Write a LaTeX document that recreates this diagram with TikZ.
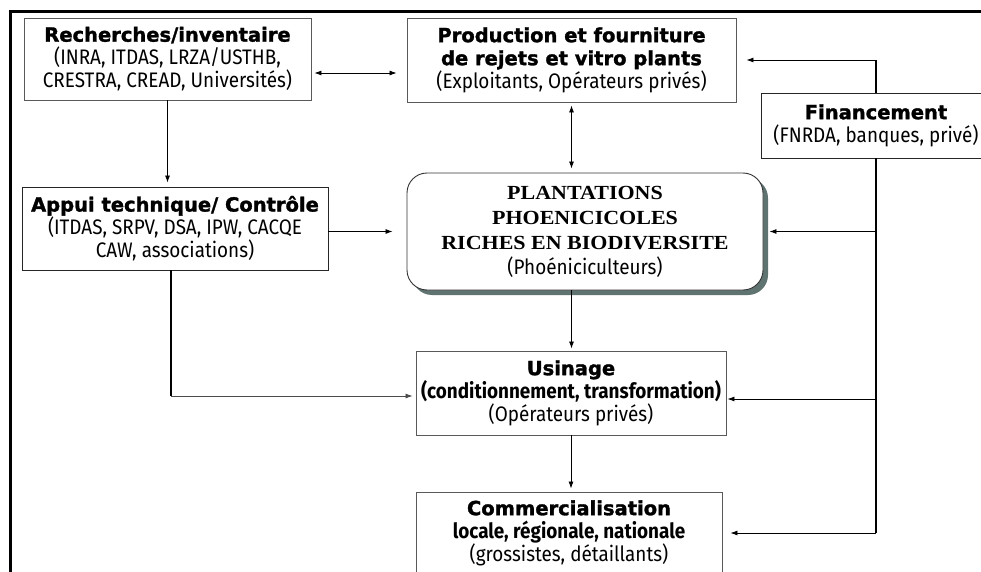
\documentclass[tikz,border=0pt]{standalone}
\usepackage{fontspec}
\setmainfont{Fira Sans}[FakeStretch=0.9]
\newfontfamily\headfont{DejaVu Sans}[BoldFeatures={FakeBold=1.5}]
\newfontfamily\plantfont{Liberation Serif}[FakeStretch=1.1]
\usetikzlibrary{arrows.meta, positioning, shadows}
\definecolor{shadowgray}{RGB}{95,115,112}
\newcommand{\head}[1]{{\headfont\bfseries\fontsize{19.5}{23}\selectfont #1}} % bold title line
\newcommand{\caps}[1]{{\plantfont\bfseries\fontsize{20}{25}\selectfont #1}} % capital title line

\tikzset{
  box/.style={draw=black!65, line width=0.9pt, fill=white, align=center, inner sep=0pt,
    font=\fontsize{21}{23}\selectfont},
  link/.style={-{Latex[length=7pt,width=5pt]}, line width=0.8pt},
  link2/.style={{Latex[length=7pt,width=5pt]}-{Latex[length=7pt,width=5pt]}, line width=0.8pt},
  trunk/.style={line width=2pt},
}

\begin{document}
\begin{tikzpicture}[x=1pt, y=-1pt]

\clip (0,0) rectangle (981,572);

% Outer frame (top and left edges)
\draw[line width=3pt] (10,590) -- (10,12) -- (995,12);

% Boxes
\node[box, minimum width=287pt, minimum height=82pt] (rech) at (167.5,59)
  {\head{Recherches/inventaire}\\(INRA, ITDAS, LRZA/USTHB,\\CRESTRA, CREAD, Universités)};
\node[box, minimum width=329pt, minimum height=84pt] (prod) at (571.5,60)
  {\head{Production et fourniture}\\\head{de rejets et vitro plants}\\(Exploitants, Opérateurs privés)};
\node[box, draw=black!85, minimum width=230pt, minimum height=65pt] (fin) at (876,125.5)
  {\head{Financement}\\(FNRDA, banques, privé)};
\node[box, draw=black!85, minimum width=306pt, minimum height=83pt] (appui) at (175,228.5)
  {\head{Appui technique/ Contrôle}\\(ITDAS, SRPV, DSA, IPW, CACQE\\CAW, associations)};
\node[box, draw=black!80, rounded corners=20pt, minimum width=356pt, minimum height=117pt,
  font=\fontsize{21}{25}\selectfont,
  drop shadow={shadow xshift=5pt, shadow yshift=-5pt, fill=shadowgray, opacity=1}] (plant) at (585,231.5)
  {\caps{PLANTATIONS}\\\caps{PHOENICICOLES}\\\caps{RICHES EN BIODIVERSITE}\\(Phoéniciculteurs)};
\node[box, minimum width=310pt, minimum height=84pt] (usin) at (571,393)
  {\head{Usinage}\\\textbf{(conditionnement, transformation)}\\(Opérateurs privés)};
\node[box, minimum width=306pt, minimum height=82pt] (comm) at (569,533)
  {\head{Commercialisation}\\\textbf{locale, régionale, nationale}\\(grossistes, détaillants)};

% Recherches <-> Production
\draw[link2] ([shift={(3,14)}]rech.east) -- ([shift={(-10,13)}]prod.west);

% Financement trunk and its branches
\coordinate (ftop) at (fin.north |- prod.east);
\coordinate (fbot) at (fin.south |- comm.east);
\coordinate (uin) at ([shift={(1,6)}]usin.east);
\draw[trunk] (fin.north) -- (ftop);
\draw[trunk] (fin.south) -- (fbot);
\draw[link] (ftop) -- ([xshift=10pt]prod.east);
\draw[link] (fin.south |- plant.east) -- ([xshift=6pt]plant.east);
\draw[link] (fin.south |- uin) -- (uin);
\draw[link] (fbot) -- ([xshift=8pt]comm.east);

% Production <-> Plantations
\draw[link2] ([yshift=-3pt]prod.south) -- ([yshift=4pt]prod.south |- plant.north);

% Main chain downwards
\draw[link, shorten >=2pt] (prod.south |- plant.south) -- (prod.south |- usin.north);
\draw[link, shorten >=3pt] (usin.south) -- (usin.south |- comm.north);
\draw[link, shorten >=4pt] (rech.south) -- (rech.south |- appui.north);

% Appui technique -> Plantations and Usinage
\draw[link] (appui.east |- plant.west) -- ([xshift=-14pt]plant.west);
\coordinate (acorner) at ([shift={(-4,3)}]appui.south |- usin.west);
\draw[trunk] ([xshift=-4pt]appui.south) -- (acorner);
\draw[link, black!70] (acorner) -- ([xshift=-3pt]usin.west |- acorner);

\end{tikzpicture}
\end{document}
